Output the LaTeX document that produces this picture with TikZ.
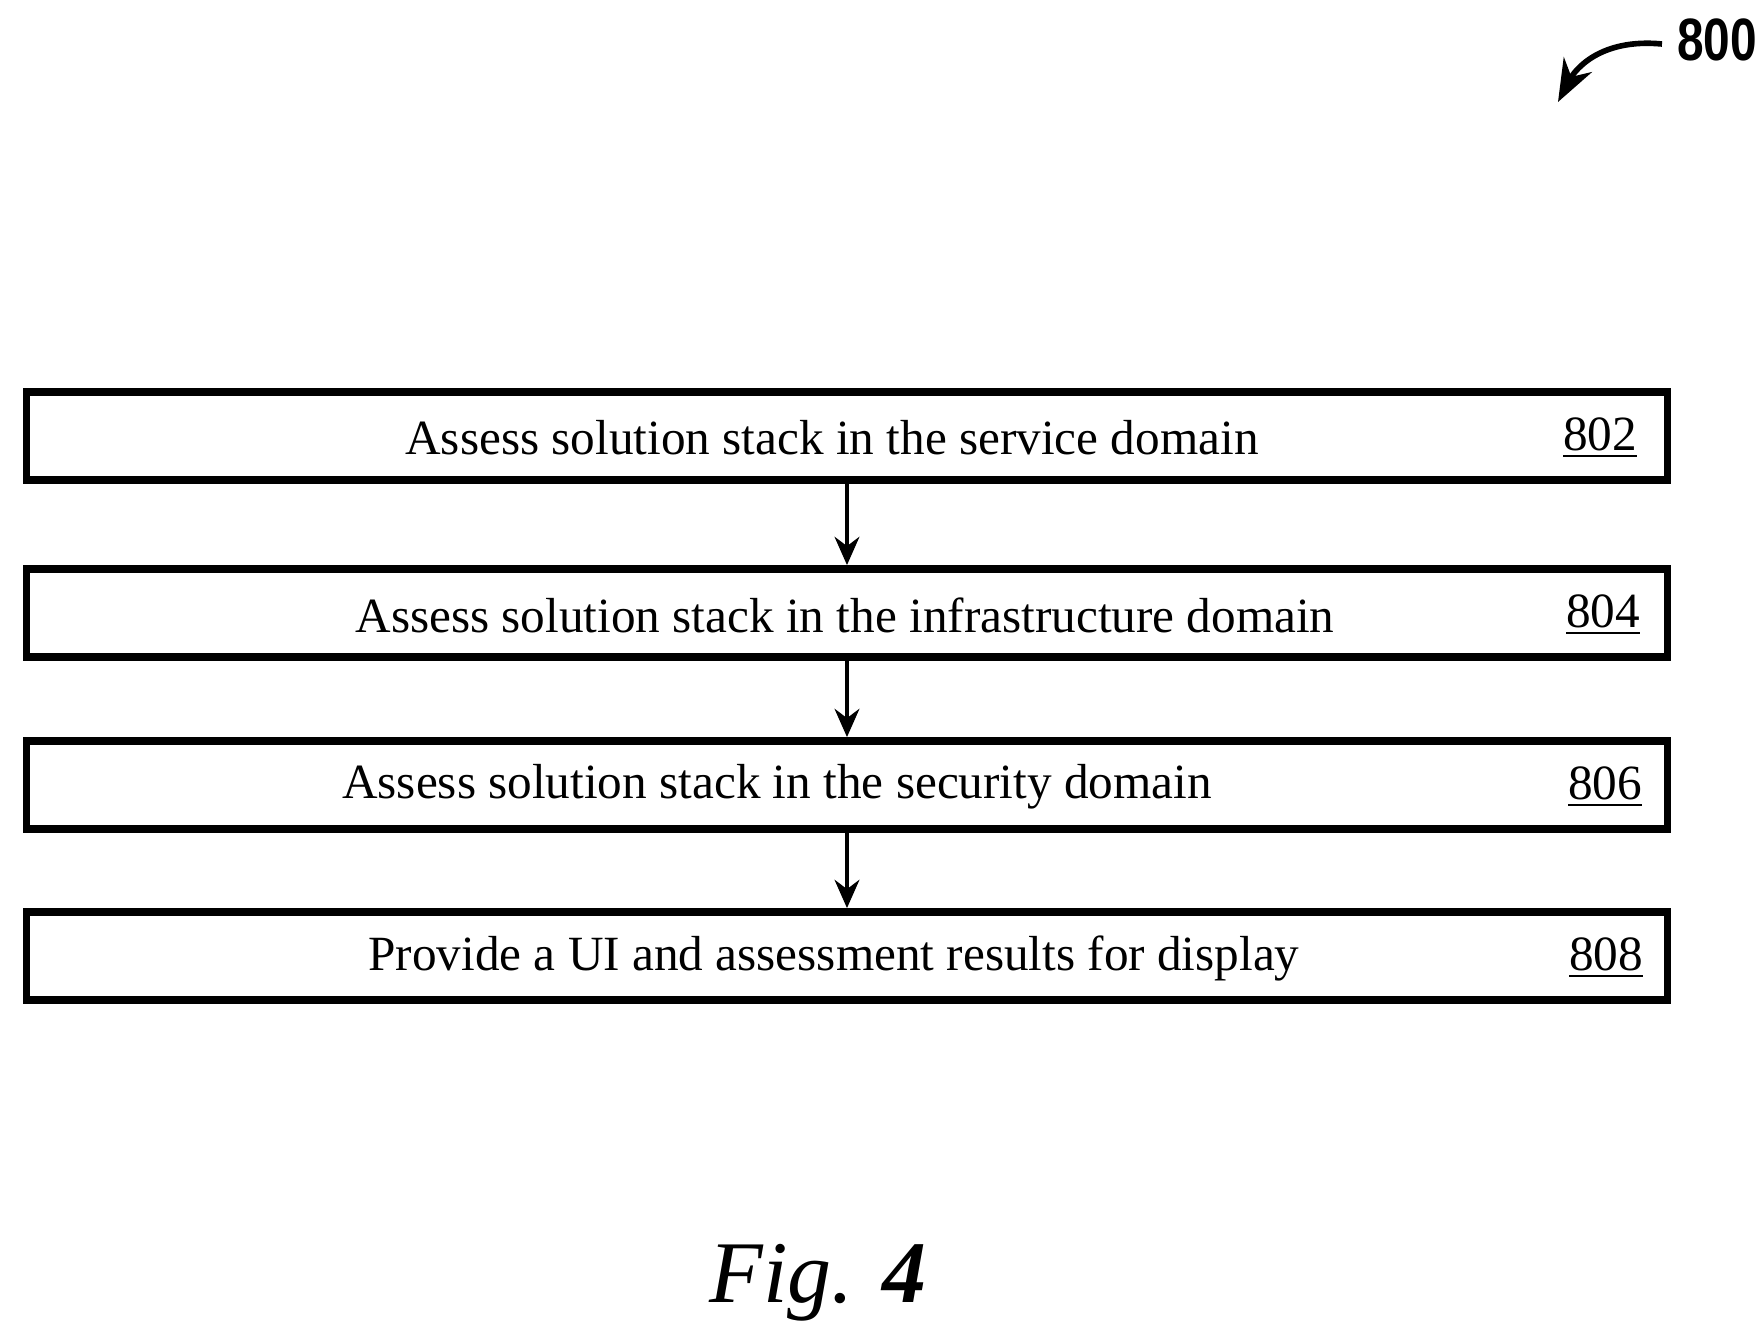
\documentclass[tikz,border=0pt]{standalone}
\usepackage{fontspec}
\setmainfont{Liberation Serif}
\newfontfamily\labelfont{Liberation Sans}
\usetikzlibrary{arrows.meta}
\begin{document}
\begin{tikzpicture}[x=0.01cm,y=-0.01cm]
    \tikzset{line/.style={draw,line width=2.2pt}}
    \tikzset{arrow/.style={draw,line width=1.4pt,-{Stealth[length=8pt,width=7pt]}}}
    \tikzset{stepbox/.style={line,minimum width=16.4cm,minimum height=0.88cm,inner sep=0pt}}
    \tikzset{ref/.style={font=\fontsize{14}{17}\selectfont}}
    \useasboundingbox (0,0) rectangle (1762,1339);

    \node[stepbox] (s1) at (847,436) {};
    \node[stepbox] (s2) at (847,613) {};
    \node[stepbox] (s3) at (847,785) {};
    \node[stepbox] (s4) at (847,956) {};

    \node[ref] (t1) at (832,438) {Assess solution stack in the service domain};
    \node[ref] (t2) at (845,615) {Assess solution stack in the infrastructure domain};
    \node[ref] (t3) at (777,787) {Assess solution stack in the security domain};
    \node[ref] (t4) at (834,958) {Provide a UI and assessment results for display};

    \node[ref] (n1) at (1600,438) {\underline{802}};
    \node[ref] (n2) at (1603,615) {\underline{804}};
    \node[ref] (n3) at (1605,787) {\underline{806}};
    \node[ref] (n4) at (1606,958) {\underline{808}};

    \draw[arrow] (s1) -- (s2);
    \draw[arrow] (s2) -- (s3);
    \draw[arrow] (s3) -- (s4);

    \node[font=\labelfont\bfseries\fontsize{17}{20}\selectfont,xscale=0.8] (fig) at (1717,40) {800};
    \coordinate (tip) at (1558,102);
    \draw[line width=1.6pt,-{Stealth[length=12pt,width=9pt]}] (1662,44) .. controls (1600,38) and (1575,70) .. (tip);

    \node[font=\itshape\fontsize{25}{28}\selectfont] (cap) at (818,1283) {Fig. \textbf{4}};
\end{tikzpicture}
\end{document}
